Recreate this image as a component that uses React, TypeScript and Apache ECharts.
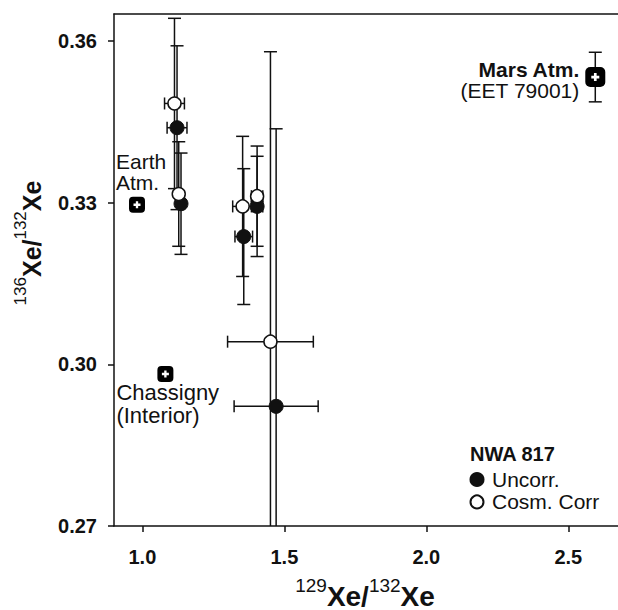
import React, { useEffect, useRef } from 'react';
import * as echarts from 'echarts';

// NWA 817 – uncorrected
const uncorrX = [1.122, 1.136, 1.357, 1.404, 1.471];
const uncorrY = [0.3439, 0.3298, 0.3237, 0.3293, 0.2922];
const uncorrXErr = [0.035, 0.012, 0.031, 0.02, 0.148];
const uncorrYErr = [0.0152, 0.0094, 0.0126, 0.0093, 0.0515];

// NWA 817 – cosmogenic corrected
const cosmX = [1.113, 1.128, 1.353, 1.404, 1.451];
const cosmY = [0.3484, 0.3316, 0.3293, 0.3312, 0.3042];
const cosmXErr = [0.035, 0.012, 0.035, 0.02, 0.151];
const cosmYErr = [0.0158, 0.0097, 0.013, 0.0093, 0.0538];

// Reference reservoirs
const refNames = ['Earth Atm.', 'Chassigny (Interior)', 'Mars Atm. (EET 79001)'];
const refX = [0.981, 1.081, 2.595];
const refY = [0.3296, 0.2982, 0.3533];
const refYErr = [0, 0, 0.0046];

const xTicks = [1.0, 1.5, 2.0, 2.5];
const yTicks = [0.27, 0.3, 0.33, 0.36];

const FONT = '"Liberation Sans", Arial, Helvetica, sans-serif';
const INK = '#111';

export default function App() {
  const ref = useRef<HTMLDivElement>(null);

  useEffect(() => {
    const chart = echarts.init(ref.current!, null, { renderer: 'svg' });

    const errRender = (params: any, api: any) => {
      const x = api.value(0);
      const y = api.value(1);
      const xe = api.value(2);
      const ye = api.value(3);
      const st = { stroke: INK, lineWidth: 1.5 };
      const cap = 6.5;
      const children: any[] = [];
      if (ye > 0) {
        const t = api.coord([x, y + ye]);
        const b = api.coord([x, y - ye]);
        children.push({ type: 'line', shape: { x1: t[0], y1: t[1], x2: b[0], y2: b[1] }, style: st });
        children.push({ type: 'line', shape: { x1: t[0] - cap, y1: t[1], x2: t[0] + cap, y2: t[1] }, style: st });
        children.push({ type: 'line', shape: { x1: b[0] - cap, y1: b[1], x2: b[0] + cap, y2: b[1] }, style: st });
      }
      if (xe > 0) {
        const l = api.coord([x - xe, y]);
        const r = api.coord([x + xe, y]);
        children.push({ type: 'line', shape: { x1: l[0], y1: l[1], x2: r[0], y2: r[1] }, style: st });
        children.push({ type: 'line', shape: { x1: l[0], y1: l[1] - 6, x2: l[0], y2: l[1] + 6 }, style: st });
        children.push({ type: 'line', shape: { x1: r[0], y1: r[1] - 6, x2: r[0], y2: r[1] + 6 }, style: st });
      }
      return { type: 'group', children };
    };

    const uncorrErr = uncorrX.map((x, i) => [x, uncorrY[i], uncorrXErr[i], uncorrYErr[i]]);
    const cosmErr = cosmX.map((x, i) => [x, cosmY[i], cosmXErr[i], cosmYErr[i]]);
    const refErr = refX.map((x, i) => [x, refY[i], 0, refYErr[i]]);

    const labelStyles: any[] = [
      {
        show: true,
        position: [-13, -45.5],
        align: 'left',
        verticalAlign: 'top',
        formatter: '{n|Earth}\n{n|Atm.}',
      },
      {
        show: true,
        position: [-41, 14.5],
        align: 'left',
        verticalAlign: 'top',
        formatter: '{c|Chassigny}\n{c|(Interior)}',
      },
      {
        show: true,
        position: [-6, -8],
        align: 'right',
        verticalAlign: 'top',
        formatter: '{b|Mars Atm.}\n{n|(EET 79001)}',
      },
    ];
    const rich = {
      n: { fontSize: 21, lineHeight: 21, fontFamily: FONT, color: INK },
      c: { fontSize: 22, lineHeight: 23, fontFamily: FONT, color: INK },
      b: { fontSize: 21, lineHeight: 21, fontFamily: FONT, color: INK, fontWeight: 'bold' },
    };

    const refData = refX.map((x, i) => ({
      name: refNames[i],
      value: [x, refY[i]],
      label: { ...labelStyles[i], rich },
    }));
    const refPlus = refX.map((x, i) => [x, refY[i]]);

    const axisCommon = {
      axisLine: { show: true, lineStyle: { color: INK, width: 1.5 } },
      splitLine: { show: false },
    };

    const option: any = {
      animation: false,
      backgroundColor: '#fff',
      title: {
        text: 'NWA 817',
        left: 470,
        top: 444,
        padding: 0,
        textStyle: { fontFamily: FONT, fontSize: 20, fontWeight: 'bold', color: INK },
      },
      legend: {
        orient: 'vertical',
        left: 469.5,
        top: 469,
        padding: 0,
        itemWidth: 20,
        itemHeight: 13,
        itemGap: 1.4,
        selectedMode: false,
        textStyle: { fontFamily: FONT, fontSize: 21, color: INK, lineHeight: 21 },
        data: [
          { name: 'Uncorr.', icon: 'circle' },
          { name: 'Cosm. Corr', icon: 'circle' },
        ],
      },
      grid: { left: 114, right: 0, top: 14, bottom: 84, containLabel: false },
      xAxis: [
        {
          type: 'value',
          min: 0.9,
          max: 2.675,
          ...axisCommon,
          axisTick: {
            show: true,
            length: 6,
            customValues: xTicks,
            lineStyle: { color: INK, width: 1.5 },
          },
          axisLabel: {
            customValues: xTicks,
            formatter: (v: number) => v.toFixed(1),
            margin: 21,
            fontFamily: FONT,
            fontSize: 20,
            fontWeight: 'bold',
            color: INK,
          },
        },
        {
          type: 'value',
          position: 'top',
          min: 0.9,
          max: 2.675,
          ...axisCommon,
          axisTick: { show: false },
          axisLabel: { show: false },
        },
      ],
      yAxis: {
        type: 'value',
        min: 0.27,
        max: 0.365,
        ...axisCommon,
        axisTick: {
          show: true,
          length: 6,
          customValues: yTicks,
          lineStyle: { color: INK, width: 1.5 },
        },
        axisLabel: {
          customValues: yTicks,
          formatter: (v: number) => v.toFixed(2),
          margin: 17,
          fontFamily: FONT,
          fontSize: 20,
          fontWeight: 'bold',
          color: INK,
        },
      },
      graphic: [
        {
          type: 'text',
          x: 365,
          y: 593,
          style: {
            text: '{s|129}{m|Xe/}{s|132}{m|Xe}',
            align: 'center',
            verticalAlign: 'middle',
            fill: INK,
            rich: {
              s: { fontSize: 19, fontFamily: FONT, verticalAlign: 'top', lineHeight: 19, fill: INK },
              m: { fontSize: 28, fontFamily: FONT, fontWeight: 'bold', verticalAlign: 'bottom', lineHeight: 34, fill: INK },
            },
          },
        },
        {
          type: 'text',
          x: 28,
          y: 243,
          rotation: Math.PI / 2,
          style: {
            text: '{s|136}{m|Xe/}{s|132}{m|Xe}',
            align: 'center',
            verticalAlign: 'middle',
            fill: INK,
            rich: {
              s: { fontSize: 17, fontFamily: FONT, verticalAlign: 'top', lineHeight: 17, fill: INK },
              m: { fontSize: 25, fontFamily: FONT, fontWeight: 'bold', verticalAlign: 'bottom', lineHeight: 32, fill: INK },
            },
          },
        },
      ],
      series: [
        {
          type: 'custom',
          name: 'errU',
          renderItem: errRender,
          data: uncorrErr,
          encode: { x: 0, y: 1 },
          clip: true,
          silent: true,
          z: 2,
        },
        {
          type: 'custom',
          name: 'errC',
          renderItem: errRender,
          data: cosmErr,
          encode: { x: 0, y: 1 },
          clip: true,
          silent: true,
          z: 2,
        },
        {
          type: 'custom',
          name: 'errR',
          renderItem: errRender,
          data: refErr,
          encode: { x: 0, y: 1 },
          clip: true,
          silent: true,
          z: 2,
        },
        {
          type: 'scatter',
          name: 'Uncorr.',
          data: uncorrX.map((x, i) => [x, uncorrY[i]]),
          symbol: 'circle',
          symbolSize: 14,
          itemStyle: { color: INK, borderColor: INK, borderWidth: 1, opacity: 1 },
          z: 5,
        },
        {
          type: 'scatter',
          name: 'Cosm. Corr',
          data: cosmX.map((x, i) => [x, cosmY[i]]),
          symbol: 'circle',
          symbolSize: 13,
          itemStyle: { color: '#fff', borderColor: INK, borderWidth: 1.5, opacity: 1 },
          z: 6,
        },
        {
          type: 'scatter',
          name: 'ref',
          data: refData,
          symbol: 'roundRect',
          symbolSize: (_v: any, p: any) => (p.dataIndex === 2 ? 20 : 16),
          itemStyle: { color: '#000', opacity: 1 },
          z: 7,
        },
        {
          type: 'scatter',
          name: 'refPlus',
          data: refPlus,
          symbol: 'path://M2,0h2v2h2v2h-2v2h-2v-2h-2v-2h2z',
          symbolSize: (_v: any, p: any) => (p.dataIndex === 2 ? 8 : 7),
          itemStyle: { color: '#fff', opacity: 1 },
          silent: true,
          z: 8,
        },
      ],
    };

    chart.setOption(option);
    return () => chart.dispose();
  }, []);

  return (
    <div
      ref={ref}
      style={{ position: 'absolute', left: 0, top: 0, width: 618, height: 610, background: '#fff' }}
    />
  );
}
